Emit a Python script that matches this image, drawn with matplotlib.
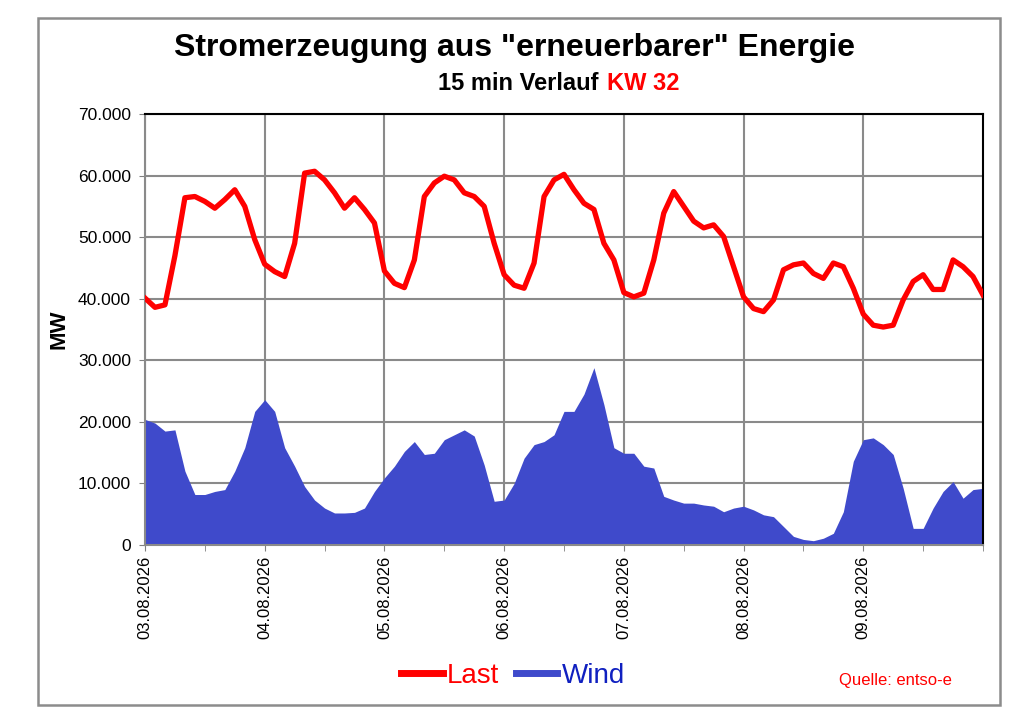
import numpy as np
import matplotlib
matplotlib.use("Agg")
from matplotlib import pyplot as plt
from matplotlib.patches import Rectangle
from matplotlib.lines import Line2D
from matplotlib.ticker import FuncFormatter, MultipleLocator

plt.rcParams["font.family"] = ["Liberation Sans", "DejaVu Sans"]

# Tage der KW 32
tage = ["03.08.2026", "04.08.2026", "05.08.2026", "06.08.2026",
        "07.08.2026", "08.08.2026", "09.08.2026"]

# Last in MW, alle 2 Stunden (00:00 ... 22:00), letzter Wert = Ende der Woche
last = [
    40100, 38600, 39000, 47000, 56400, 56600, 55800, 54700, 56100, 57700, 55000, 49600,
    45600, 44400, 43600, 49000, 60400, 60700, 59300, 57200, 54700, 56400, 54500, 52300,
    44500, 42500, 41800, 46300, 56600, 58800, 59900, 59300, 57200, 56600, 55000, 49000,
    43900, 42200, 41700, 45800, 56600, 59300, 60200, 57700, 55500, 54500, 49000, 46300,
    41000, 40300, 40900, 46300, 53900, 57400, 55000, 52600, 51500, 52000, 50100, 45200,
    40300, 38400, 37900, 39800, 44700, 45500, 45800, 44100, 43300, 45800, 45200, 41700,
    37500, 35700, 35400, 35700, 39800, 42800, 43900, 41500, 41500, 46300, 45200, 43600,
    40600,
]

# Wind in MW, gleiches Raster
wind = [
    20400, 19800, 18500, 18700, 12000, 8200, 8200, 8700, 9000, 12000, 15800, 21700,
    23600, 21700, 15800, 12800, 9500, 7300, 6000, 5200, 5200, 5300, 6000, 8700,
    10900, 12800, 15200, 16800, 14700, 14900, 17100, 17900, 18700, 17700, 13000, 7100,
    7300, 10000, 14100, 16300, 16800, 17900, 21700, 21700, 24500, 28800, 22800, 15800,
    14900, 14900, 12800, 12500, 7900, 7300, 6800, 6800, 6500, 6300, 5400, 6000,
    6300, 5700, 4900, 4600, 3000, 1400, 900, 700, 1100, 1900, 5400, 13600,
    17100, 17400, 16300, 14700, 9200, 2700, 2700, 6000, 8700, 10300, 7600, 9000,
    9200,
]

t = np.arange(len(last)) * 2 / 24.0  # Zeit in Tagen

fig = plt.figure(figsize=(10.24, 7.24), dpi=100)
fig.patch.set_facecolor("white")

# Rahmen um das ganze Diagramm
fig.add_artist(Rectangle((38 / 1024, 1 - 705 / 724), (1000 - 38) / 1024, (705 - 18) / 724,
                         transform=fig.transFigure, fill=False, edgecolor="#8c8c8c", lw=1.8))

ax = fig.add_axes([145 / 1024, 1 - 545 / 724, (983 - 145) / 1024, (545 - 114) / 724])

ax.fill_between(t, wind, 0, color="#3f4acb", lw=0, zorder=2)
ax.plot(t, last, color="#ff0000", lw=3.8, zorder=3, solid_joinstyle="round")

ax.set_xlim(0, 7)
ax.set_ylim(0, 70000)
ax.set_xticks(range(7))
ax.set_xticklabels(tage, rotation=90, fontsize=12)
ax.xaxis.set_minor_locator(MultipleLocator(0.5))
ax.yaxis.set_major_locator(MultipleLocator(10000))
ax.yaxis.set_major_formatter(FuncFormatter(lambda v, p: "0" if v == 0 else f"{int(v):,}".replace(",", ".")))
ax.tick_params(axis="y", labelsize=12.5, length=4, color="#808080", pad=6)
ax.tick_params(axis="x", which="both", length=4, color="#808080", pad=4)

ax.grid(True, color="#8a8a8a", lw=1.5, zorder=0)
ax.set_axisbelow(True)
for s in ["left", "bottom"]:
    ax.spines[s].set_color("#8a8a8a")
    ax.spines[s].set_linewidth(1.5)
for s in ["top", "right"]:
    ax.spines[s].set_color("black")
    ax.spines[s].set_linewidth(1.5)

ax.set_ylabel("MW", fontsize=16, fontweight="bold", labelpad=6)

# Titel
fig.text(515 / 1024, 1 - 48 / 724, 'Stromerzeugung aus "erneuerbarer" Energie',
         ha="center", va="center", fontsize=23, fontweight="bold")
fig.text(599 / 1024, 1 - 83 / 724, "15 min Verlauf", ha="right", va="center",
         fontsize=17, fontweight="bold")
fig.text(607 / 1024, 1 - 83 / 724, "KW 32", ha="left", va="center",
         fontsize=17, fontweight="bold", color="#ff0000")

# Legende
h_last = Line2D([], [], color="#ff0000", lw=5)
h_wind = Line2D([], [], color="#3f4acb", lw=5)
leg = fig.legend([h_last, h_wind], ["Last", "Wind"], loc="center",
                 bbox_to_anchor=(513 / 1024, 1 - 676 / 724), ncol=2, frameon=False,
                 fontsize=20, handlelength=1.5, handletextpad=0.15, columnspacing=0.6)
leg.get_texts()[0].set_color("#ff0000")
leg.get_texts()[1].set_color("#1020c0")

fig.text(895 / 1024, 1 - 681 / 724, "Quelle: entso-e", ha="center", va="center",
         fontsize=12, color="#ff0000")

fig.savefig("out.png", dpi=100)
